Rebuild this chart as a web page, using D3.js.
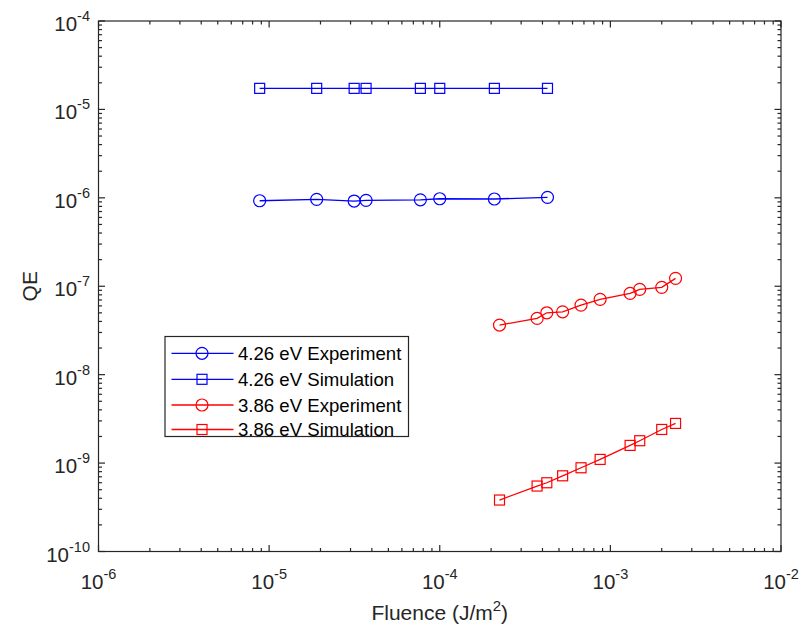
<!DOCTYPE html>
<html>
<head>
<meta charset="utf-8">
<script src="https://cdn.jsdelivr.net/npm/d3@7/dist/d3.min.js"></script>
<style>
  html, body { margin: 0; padding: 0; background: #fff; }
  svg { display: block; font-family: "Liberation Sans", Arial, sans-serif; }
</style>
</head>
<body>
<svg id="chart" width="805" height="631"></svg>
<script>
// Fluence (J/m^2) and quantum efficiency for each photon energy
const fluence426 = [8.8e-6, 1.9e-5, 3.15e-5, 3.7e-5, 7.7e-5, 1.0e-4, 2.09e-4, 4.28e-4];
const qeExp426   = [9.27e-7, 9.62e-7, 9.2e-7, 9.37e-7, 9.5e-7, 9.77e-7, 9.7e-7, 1.013e-6];
const qeSim426   = [1.73e-5, 1.73e-5, 1.73e-5, 1.73e-5, 1.73e-5, 1.73e-5, 1.73e-5, 1.73e-5];

const fluence386 = [2.24e-4, 3.72e-4, 4.24e-4, 5.25e-4, 6.73e-4, 8.71e-4, 1.305e-3, 1.486e-3, 2.0e-3, 2.41e-3];
const qeExp386   = [3.64e-8, 4.33e-8, 5.01e-8, 5.14e-8, 6.12e-8, 7.11e-8, 8.31e-8, 9.22e-8, 9.72e-8, 1.228e-7];
const qeSim386   = [3.82e-10, 5.5e-10, 5.99e-10, 7.18e-10, 8.85e-10, 1.1e-9, 1.585e-9, 1.79e-9, 2.4e-9, 2.81e-9];

const seriesNames = ["4.26 eV Experiment", "4.26 eV Simulation", "3.86 eV Experiment", "3.86 eV Simulation"];
const xTickExps = [-6, -5, -4, -3, -2];
const yTickExps = [-10, -9, -8, -7, -6, -5, -4];

const series = [
  { name: seriesNames[0], x: fluence426, y: qeExp426, color: "#0000ff", marker: "circle" },
  { name: seriesNames[1], x: fluence426, y: qeSim426, color: "#0000ff", marker: "square" },
  { name: seriesNames[2], x: fluence386, y: qeExp386, color: "#ff0000", marker: "circle" },
  { name: seriesNames[3], x: fluence386, y: qeSim386, color: "#ff0000", marker: "square" }
];

const svg = d3.select("#chart");
const plotLeft = 98.5, plotRight = 781, plotTop = 21, plotBottom = 551.5;
const axisColor = "#262626";

const x = d3.scaleLog().domain([1e-6, 1e-2]).range([plotLeft, plotRight]);
const y = d3.scaleLog().domain([1e-10, 1e-4]).range([plotBottom, plotTop]);

// minor tick values (2..9 within each decade)
function minors(lo, hi) {
  const out = [];
  for (let e = lo; e < hi; e++) for (let m = 2; m <= 9; m++) out.push(m * Math.pow(10, e));
  return out;
}

const axes = svg.append("g");
axes.append("rect")
  .attr("x", plotLeft).attr("y", plotTop)
  .attr("width", plotRight - plotLeft).attr("height", plotBottom - plotTop)
  .attr("fill", "none").attr("stroke", axisColor).attr("stroke-width", 1.2);

const majorLen = 6.5, minorLen = 3.5;
function tick(x1, y1, x2, y2) {
  axes.append("line").attr("x1", x1).attr("y1", y1).attr("x2", x2).attr("y2", y2)
    .attr("stroke", axisColor).attr("stroke-width", 1.2);
}
// x ticks on bottom and top, pointing inward
xTickExps.forEach(e => {
  const px = x(Math.pow(10, e));
  tick(px, plotBottom, px, plotBottom - majorLen);
  tick(px, plotTop, px, plotTop + majorLen);
});
minors(-6, -2).forEach(v => {
  const px = x(v);
  tick(px, plotBottom, px, plotBottom - minorLen);
  tick(px, plotTop, px, plotTop + minorLen);
});
// y ticks on left and right
yTickExps.forEach(e => {
  const py = y(Math.pow(10, e));
  tick(plotLeft, py, plotLeft + majorLen, py);
  tick(plotRight, py, plotRight - majorLen, py);
});
minors(-10, -4).forEach(v => {
  const py = y(v);
  tick(plotLeft, py, plotLeft + minorLen, py);
  tick(plotRight, py, plotRight - minorLen, py);
});

// tick labels: 10 with a superscript exponent
function powerLabel(g, e, px, py, anchor) {
  const t = g.append("text")
    .attr("x", px).attr("y", py)
    .attr("text-anchor", anchor)
    .attr("fill", axisColor)
    .style("font-size", "20.5px");
  t.append("tspan").text("10");
  t.append("tspan").attr("dy", -10).style("font-size", "14.5px").text(String(e));
}
xTickExps.forEach(e => powerLabel(axes, e, x(Math.pow(10, e)), 588.5, "middle"));
yTickExps.forEach(e => powerLabel(axes, e, 90, y(Math.pow(10, e)) + 10, "end"));

// axis titles
axes.append("text")
  .attr("x", x(Math.sqrt(1e-6 * 1e-2))).attr("y", 620)
  .attr("text-anchor", "middle").attr("fill", axisColor).style("font-size", "21px")
  .call(t => {
    t.append("tspan").text("Fluence (J/m");
    t.append("tspan").attr("dy", -9).style("font-size", "15px").text("2");
    t.append("tspan").attr("dy", 9).text(")");
  });
axes.append("text")
  .attr("transform", `translate(37, ${(plotTop + plotBottom) / 2}) rotate(-90)`)
  .attr("text-anchor", "middle").attr("fill", axisColor).style("font-size", "21px")
  .text("QE");

// data
function drawMarker(g, kind, cx, cy, color) {
  if (kind === "circle") {
    g.append("circle").attr("cx", cx).attr("cy", cy).attr("r", 6)
      .attr("fill", "none").attr("stroke", color).attr("stroke-width", 1.2);
  } else {
    g.append("rect").attr("x", cx - 5).attr("y", cy - 5).attr("width", 10).attr("height", 10)
      .attr("fill", "none").attr("stroke", color).attr("stroke-width", 1.2);
  }
}

const plot = svg.append("g");
const line = d3.line().x(d => x(d[0])).y(d => y(d[1]));
series.forEach(s => {
  const pts = s.x.map((v, i) => [v, s.y[i]]);
  plot.append("path").attr("d", line(pts))
    .attr("fill", "none").attr("stroke", s.color).attr("stroke-width", 1.3);
  pts.forEach(p => drawMarker(plot, s.marker, x(p[0]), y(p[1]), s.color));
});

// legend
const leg = svg.append("g");
const lx = 165, ly = 336.5, lw = 243.5, lh = 100;
leg.append("rect").attr("x", lx).attr("y", ly).attr("width", lw).attr("height", lh)
  .attr("fill", "#fff").attr("stroke", axisColor).attr("stroke-width", 1.2);
const rowY = [353.3, 379.3, 405, 429.5];
series.forEach((s, i) => {
  const ry = rowY[i];
  leg.append("line").attr("x1", 171.5).attr("x2", 233.5).attr("y1", ry).attr("y2", ry)
    .attr("stroke", s.color).attr("stroke-width", 1.3);
  drawMarker(leg, s.marker, 202, ry, s.color);
  leg.append("text").attr("x", 238).attr("y", ry + 6.5)
    .attr("fill", "#000").style("font-size", "18.6px").text(s.name);
});
</script>
</body>
</html>
